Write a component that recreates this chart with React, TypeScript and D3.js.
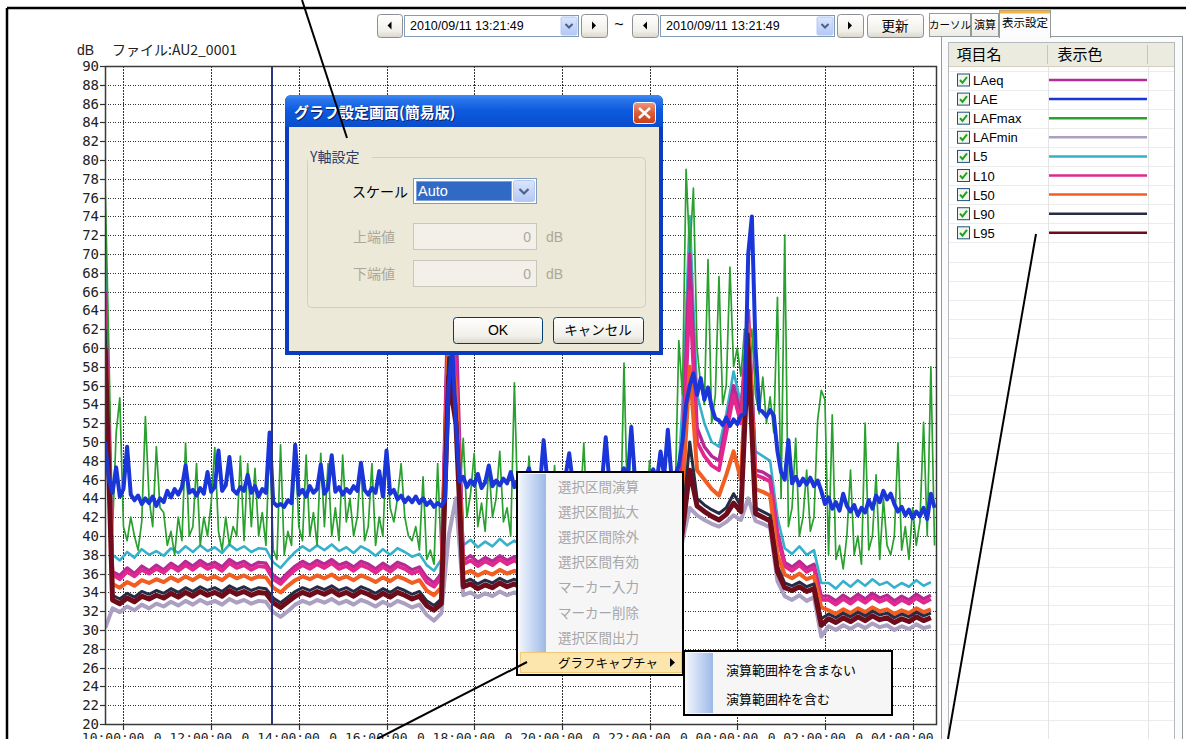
import React from "react";
import * as d3 from "d3";

// ---------------- data ----------------
const seriesNames = ["LAeq", "LAE", "LAFmax", "LAFmin", "L5", "L10", "L50", "L90", "L95"];
const seriesColors = ["#b52a95", "#1a36d8", "#2aa12f", "#ab9fc2", "#35b1cb", "#e2288f", "#f25e22", "#252c45", "#6f0c1b"];
const stepMinutes = [10, 5, 5, 10, 10, 10, 10, 10, 10];

const startTime = new Date(2010, 8, 10, 9, 35, 0);
const endTime = new Date(2010, 8, 11, 4, 32, 0);
const cursorTime = new Date(2010, 8, 10, 13, 23, 0);

const xTickTimes = [
  new Date(2010, 8, 10, 10), new Date(2010, 8, 10, 12), new Date(2010, 8, 10, 14),
  new Date(2010, 8, 10, 16), new Date(2010, 8, 10, 18), new Date(2010, 8, 10, 20),
  new Date(2010, 8, 10, 22), new Date(2010, 8, 11, 0), new Date(2010, 8, 11, 2),
  new Date(2010, 8, 11, 4),
];
const xTickLabels = ["10:00:00", "0 12:00:00", "0 14:00:00", "0 16:00:00", "0 18:00:00",
  "0 20:00:00", "0 22:00:00", "0 00:00:00", "0 02:00:00", "0 04:00:00"];
const yTickValues = [20, 22, 24, 26, 28, 30, 32, 34, 36, 38, 40, 42, 44, 46, 48, 50, 52, 54,
  56, 58, 60, 62, 64, 66, 68, 70, 72, 74, 76, 78, 80, 82, 84, 86, 88, 90];

// 5-minute series
const LAFMAX = [
  77, 60, 40.5, 51, 54.7, 41, 39.5, 42, 40, 38.5, 41.5, 52.7,
  44, 41, 49.5, 43, 42.5, 39, 40.5, 38, 42, 39.5, 49.9, 40,
  41, 47.7, 39, 42, 40, 43.5, 49.4, 40.5, 38.5, 42, 39, 41,
  40, 48.5, 39.5, 47.7, 41, 47.2, 40, 42.5, 39, 50.5, 38.5, 37.5,
  49.7, 38, 40.5, 39, 49.7, 41, 39.5, 48.6, 40, 42.5, 39, 48.8,
  41, 47.7, 40, 43, 39.5, 48.6, 41.5, 44, 40, 42, 47.8, 39.5,
  41, 47.7, 39, 42, 40, 49.1, 43, 41.5, 44, 47.7, 42, 40,
  39.5, 41, 38.5, 46.3, 37.5, 38.5, 37, 47.7, 37.5, 40, 62, 66,
  58, 44, 50.4, 42, 44.5, 48.8, 41, 43.5, 40.5, 47.5, 42, 44,
  49, 41.5, 43, 40, 56.3, 42, 44, 41, 48.5, 42.5, 40, 43,
  41, 44, 42, 47.5, 40.5, 43, 41, 44.5, 42, 40, 43, 49.9,
  41, 44, 42, 46, 40.5, 43, 41, 44, 42, 40, 58.4, 42,
  51.8, 43, 41, 44.5, 42, 48, 41, 43.5, 40.5, 44, 42, 45,
  44, 60.8, 55, 79, 70, 77, 60, 56, 54, 69.4, 52, 55,
  67.6, 54, 56, 68.6, 58, 60, 57, 62, 60, 62, 55, 53,
  56.9, 52, 54.8, 51, 65.4, 44, 72, 41, 43, 50.4, 40, 42,
  47, 40.5, 42, 52.3, 55.5, 54.5, 38, 52.9, 37.5, 39, 36.5, 40,
  47, 38, 40, 37, 52, 38.5, 40, 46.5, 37.5, 44, 39, 38,
  40, 49.9, 38.5, 41, 37.5, 43, 39, 41.5, 52.1, 40, 58, 39,
];
const LAE = [
  50, 46, 44.6, 47.3, 44.2, 45, 49.5, 44.4, 43.8, 44.3, 43.4, 44,
  43.5, 44.2, 43.2, 44, 43.6, 44.8, 44.1, 45, 44.4, 45.2, 47.5, 44.6,
  44.9, 44.3, 45.1, 44.5, 46.8, 44.7, 45.2, 49.1, 44.8, 45.4, 48.4, 44.9,
  44.5, 45.2, 44.8, 46.5, 44.6, 45.3, 44.2, 45, 44.6, 51, 43.6, 43.2,
  43.4, 43.1, 43.8, 43.5, 49.7, 44.4, 44.9, 44.2, 45.3, 44.6, 45, 47.6,
  44.5, 45.1, 48.6, 44.7, 45.2, 44.4, 45, 44.6, 45.3, 44.8, 47.8, 44.9,
  44.4, 45.1, 44.6, 46.9, 44.2, 49.1, 44.5, 44.9, 43.9, 44.3, 43.6, 44.1,
  43.6, 44.2, 43.5, 44, 43.3, 43.7, 43.1, 43.5, 43.2, 43.8, 56, 60,
  52, 45.8, 46.3, 45.2, 45.9, 45.4, 46.6, 45.1, 45.7, 47.5, 45.3, 45.9,
  45.4, 46.1, 45.6, 46.8, 45.2, 45.9, 45.5, 46.2, 47.2, 45.6, 46, 45.3,
  50.2, 45.8, 46.3, 45.5, 46.1, 45.7, 46.4, 48.8, 45.6, 46.2, 45.4, 46,
  45.8, 46.3, 45.6, 46.1, 45.9, 50.5, 45.7, 46.4, 45.5, 46.2, 47.2, 45.9,
  51.6, 46.1, 45.8, 46.5, 45.7, 46.3, 47.1, 45.9, 49, 46.4, 51.3, 46.2,
  46.5, 47.5, 50, 54, 56, 57.3, 55, 56.8, 54.5, 55.8, 53.7, 52.5,
  52.3, 51.8, 52.6, 51.7, 52.4, 51.9, 52.8, 53, 70, 74, 60, 53.5,
  53.2, 52.7, 53.4, 52.8, 49, 46.8, 46, 50.2, 45.6, 46.3, 45.4, 46.1,
  45.5, 46.2, 45.3, 45.9, 44.8, 43.4, 44.1, 42.9, 43.6, 42.7, 44.5, 43.2,
  42.6, 43.3, 42.2, 43, 42.5, 43.8, 42.9, 44.3, 43.6, 44.8, 43.9, 44.5,
  43.4, 42.6, 43.1, 42.2, 42.8, 41.9, 42.6, 42.1, 43, 41.8, 44.5, 43,
];

// 10-minute series
const L95 = [
  60,
  33.2, 32.8, 33.4, 33.0, 33.6, 33.3, 33.7, 33.4, 33.9, 33.5, 34.0, 33.6, 34.1, 33.7, 34.0, 33.6, 34.2, 33.8, 34.1, 33.7, 34.0, 33.9,
  32.9, 32.4, 33.0,
  33.6, 34.0, 33.7, 34.1, 33.8, 34.2, 33.7, 34.0, 33.6, 34.1, 33.8, 33.4, 33.9, 33.5, 34.0, 33.7, 33.3, 33.6,
  32.6, 32.1, 32.8,
  57, 52,
  34.6, 34.9, 34.4, 34.8, 34.5, 35.0, 34.6, 34.9, 34.5, 34.8, 34.4, 34.9, 34.6, 35.0, 34.7, 34.9, 34.5, 34.8, 34.6, 35.1,
  34.7, 34.9, 34.5, 34.8, 34.6, 35.0, 34.7, 34.9, 34.6, 35.2,
  40.5, 47, 43.2, 42.6, 42.1, 41.7, 42.3, 43.5, 42.6, 60, 42.4, 42.0, 41.6, 36.2,
  34.5, 34.2, 34.6, 34.1, 34.4,
  30.5,
  31.2, 30.8, 31.3, 30.9, 31.4, 31.0, 31.5, 31.1, 31.3, 30.8, 31.2, 30.9, 31.4, 31.0, 31.3,
];
const L90 = [
  62,
  33.7, 33.3, 33.9, 33.5, 34.1, 33.8, 34.2, 33.9, 34.4, 34.0, 34.5, 34.1, 34.6, 34.2, 34.5, 34.1, 34.7, 34.3, 34.6, 34.2, 34.5, 34.4,
  33.4, 32.9, 33.5,
  34.1, 34.5, 34.2, 34.6, 34.3, 34.7, 34.2, 34.5, 34.1, 34.6, 34.3, 33.9, 34.4, 34.0, 34.5, 34.2, 33.8, 34.1,
  33.1, 32.6, 33.3,
  59, 54,
  35.1, 35.4, 34.9, 35.3, 35.0, 35.5, 35.1, 35.4, 35.0, 35.3, 34.9, 35.4, 35.1, 35.5, 35.2, 35.4, 35.0, 35.3, 35.1, 35.6,
  35.2, 35.4, 35.0, 35.3, 35.1, 35.5, 35.2, 35.4, 35.1, 35.7,
  41.5, 50, 44, 43.3, 42.8, 42.4, 43, 44.5, 43.2, 61.5, 43, 42.6, 42.2, 36.8,
  35.0, 34.7, 35.1, 34.6, 34.9,
  31.2,
  31.7, 31.3, 31.8, 31.4, 31.9, 31.5, 32.0, 31.6, 31.8, 31.3, 31.7, 31.4, 31.9, 31.5, 31.8,
];
const LAFMIN = [
  30.2,
  32.3, 31.9, 32.5, 32.1, 32.7, 32.3, 32.8, 32.5, 33.0, 32.6, 33.1, 32.7, 33.2, 32.8, 33.1, 32.7, 33.3, 32.9, 33.2, 32.8, 33.1, 33.0,
  31.9, 31.4, 32.0,
  32.7, 33.1, 32.8, 33.2, 32.9, 33.3, 32.8, 33.1, 32.7, 33.2, 32.9, 32.5, 33.0, 32.6, 33.1, 32.8, 32.4, 32.7,
  31.6, 31.0, 31.8,
  40, 44,
  33.7, 34.0, 33.5, 33.9, 33.6, 34.1, 33.7, 34.0, 33.6, 33.9, 33.5, 34.0, 33.7, 34.1, 33.8, 34.0, 33.6, 33.9, 33.7, 34.2,
  33.8, 34.0, 33.6, 33.9, 33.7, 34.1, 33.8, 34.0, 33.7, 34.3,
  39.5, 43, 42.2, 41.7, 41.3, 41.0, 41.5, 42.2, 41.7, 44, 41.6, 41.3, 40.9, 35.2,
  33.6, 33.2, 33.7, 33.1, 33.5,
  29.3,
  30.4, 30.0, 30.5, 30.1, 30.6, 30.2, 30.7, 30.3, 30.5, 30.0, 30.4, 30.1, 30.6, 30.2, 30.4,
];
const L50 = [
  61,
  34.9, 34.5, 35.1, 34.7, 35.3, 35.0, 35.4, 35.1, 35.6, 35.2, 35.7, 35.3, 35.8, 35.4, 35.7, 35.3, 35.9, 35.5, 35.8, 35.4, 35.7, 35.6,
  34.5, 34.0, 34.7,
  35.3, 35.7, 35.4, 35.8, 35.5, 35.9, 35.4, 35.7, 35.3, 35.8, 35.5, 35.1, 35.6, 35.2, 35.7, 35.4, 35.0, 35.3,
  34.2, 33.7, 34.5,
  61, 56,
  36.0, 36.3, 35.8, 36.2, 35.9, 36.4, 36.0, 36.3, 35.9, 36.2, 35.8, 36.3, 36.0, 36.4, 36.1, 36.3, 35.9, 36.2, 36.0, 36.5,
  36.1, 36.3, 35.9, 36.2, 36.0, 36.4, 36.1, 36.3, 36.0, 36.8,
  44, 58, 47, 46, 45, 44.3, 46.5, 49, 46, 62.5, 45, 44.7, 44.3, 38,
  35.9, 35.5, 36.0, 35.4, 35.7,
  32.4,
  32.1, 31.7, 32.2, 31.8, 32.3, 31.9, 32.4, 32.0, 32.2, 31.7, 32.1, 31.8, 32.3, 31.9, 32.2,
];
const L10 = [
  64,
  35.9, 35.4, 36.2, 35.7, 36.4, 36.0, 36.5, 36.1, 36.8, 36.3, 36.9, 36.4, 37.0, 36.5, 36.8, 36.3, 37.1, 36.6, 36.9, 36.4, 36.8, 36.7,
  35.4, 34.9, 35.7,
  36.4, 36.9, 36.5, 37.0, 36.6, 37.1, 36.5, 36.8, 36.3, 36.9, 36.6, 36.1, 36.7, 36.2, 36.8, 36.5, 36.0, 36.3,
  35.1, 34.6, 35.6,
  64, 58,
  37.0, 37.4, 36.8, 37.3, 36.9, 37.5, 37.0, 37.4, 36.9, 37.3, 36.8, 37.4, 37.0, 37.5, 37.1, 37.4, 36.9, 37.3, 37.0, 37.6,
  37.1, 37.4, 36.9, 37.3, 37.0, 37.5, 37.1, 37.4, 37.0, 37.9,
  47, 66, 50, 48.5, 47.5, 47, 51, 55, 52, 64, 46.5, 46.2, 45.8, 40,
  36.8, 36.3, 36.9, 36.2, 36.6,
  33.2,
  33.2, 32.7, 33.3, 32.8, 33.4, 32.9, 33.5, 33.0, 33.3, 32.7, 33.2, 32.8, 33.4, 32.9, 33.3,
];
const LAEQ = [
  66,
  36.2, 35.8, 36.6, 36.0, 36.8, 36.3, 36.9, 36.4, 37.1, 36.6, 37.3, 36.8, 37.4, 36.9, 37.2, 36.7, 37.5, 37.0, 37.3, 36.8, 37.2, 37.1,
  35.8, 35.3, 36.1,
  36.8, 37.3, 36.9, 37.4, 37.0, 37.5, 36.9, 37.2, 36.7, 37.3, 37.0, 36.5, 37.1, 36.6, 37.2, 36.9, 36.4, 36.7,
  35.6, 35.0, 36.0,
  68, 63,
  37.4, 37.9, 37.2, 37.7, 37.3, 37.9, 37.4, 37.8, 37.3, 37.7, 37.2, 37.8, 37.4, 37.9, 37.5, 37.8, 37.3, 37.7, 37.4, 38.0,
  37.5, 37.8, 37.3, 37.7, 37.4, 37.9, 37.5, 37.8, 37.4, 38.3,
  49, 70, 51.5, 49.5, 48.5, 48, 52, 56, 53, 63, 47, 46.8, 46.3, 40.5,
  37.2, 36.7, 37.3, 36.6, 37.0,
  33.6,
  33.6, 33.1, 33.7, 33.2, 33.8, 33.3, 33.9, 33.4, 33.7, 33.1, 33.6, 33.2, 33.8, 33.3, 33.7,
];
const L5 = [
  70,
  38.0, 37.4, 38.3, 37.7, 38.6, 38.0, 38.4, 37.9, 38.7, 38.2, 38.9, 38.3, 39.0, 38.4, 38.8, 38.2, 39.1, 38.5, 38.9, 38.3, 38.7, 38.6,
  37.2, 36.6, 37.5,
  38.3, 38.9, 38.4, 39.0, 38.5, 39.1, 38.4, 38.8, 38.2, 38.9, 38.5, 37.9, 38.6, 38.0, 38.7, 38.3, 37.8, 38.1,
  36.9, 36.3, 37.5,
  66, 60,
  39.0, 39.6, 38.8, 39.4, 38.9, 39.7, 39.0, 39.5, 38.9, 39.4, 38.8, 39.5, 39.0, 39.7, 39.1, 39.5, 38.9, 39.4, 39.0, 39.8,
  39.1, 39.5, 38.9, 39.4, 39.0, 39.6, 39.1, 39.5, 39.0, 40.2,
  54, 74, 55, 52, 50, 49.5, 53, 57.5, 54, 64, 49, 48.5, 48, 42,
  38.7, 38.1, 38.9, 38.0, 38.5,
  35,
  35.0, 34.4, 35.2, 34.6, 35.3, 34.7, 35.4, 34.8, 35.1, 34.5, 35.0, 34.6, 35.3, 34.7, 35.1,
];

const seriesValues = [LAEQ, LAE, LAFMAX, LAFMIN, L5, L10, L50, L90, L95];
const drawOrder = [3, 4, 2, 0, 5, 6, 7, 8, 1];
const strokeWidths = [3.4, 4, 1.7, 4, 2.6, 3.8, 4, 3, 5];

const menuItems = ["選択区間演算", "選択区間拡大", "選択区間除外", "選択区間有効", "マーカー入力", "マーカー削除", "選択区間出力"];
const subMenuItems = ["演算範囲枠を含まない", "演算範囲枠を含む"];
const dateText = "2010/09/11 13:21:49";

const JP = "'Noto Sans CJK JP','Noto Sans',sans-serif";
const UI = "'Liberation Sans',Arial,sans-serif";
const MONO = "'DejaVu Sans Mono',monospace";

function SmallBtn({ x, y, w, h, dir }: any) {
  const cx = x + w / 2, cy = y + h / 2;
  const tri = dir < 0
    ? `M${cx + 2},${cy - 4} L${cx - 2},${cy} L${cx + 2},${cy + 4} Z`
    : `M${cx - 2},${cy - 4} L${cx + 2},${cy} L${cx - 2},${cy + 4} Z`;
  return (
    <g>
      <rect x={x + 0.5} y={y + 0.5} width={w} height={h} rx={3} fill="url(#btnGrad)" stroke="#8b8f96" />
      <path d={tri} fill="#000" />
    </g>
  );
}

function Combo({ x, y, w, h }: any) {
  return (
    <g>
      <rect x={x + 0.5} y={y + 0.5} width={w} height={h} fill="#fff" stroke="#7f9db9" />
      <text x={x + 6} y={y + 15} fontFamily={UI} fontSize={12.5} fill="#000">{dateText}</text>
      <rect x={x + w - 17} y={y + 2} width={16} height={h - 3} rx={1.5} fill="url(#ddGrad)" stroke="#b8c9f2" />
      <path d={`M${x + w - 12.5},${y + h / 2 - 1.5} L${x + w - 9},${y + h / 2 + 2} L${x + w - 5.5},${y + h / 2 - 1.5}`} fill="none" stroke="#4d6185" strokeWidth={2} />
    </g>
  );
}

export default function App() {
  const x = d3.scaleTime().domain([startTime, endTime]).range([105.2, 936]);
  const y = d3.scaleLinear().domain([20, 90]).range([724, 66]);
  const timeAt = (i: number, step: number) => new Date(startTime.getTime() + i * step * 60000);

  const plotL = 105, plotR = 936, plotT = 66, plotB = 724;

  const dataPaths = drawOrder.map((si) => {
    const gen = d3.line<number>()
      .x((_, i) => x(timeAt(i, stepMinutes[si])))
      .y((d) => y(d));
    return (
      <path key={seriesNames[si]} d={gen(seriesValues[si]) || ""} fill="none"
        stroke={seriesColors[si]} strokeWidth={strokeWidths[si]} strokeLinejoin="round" />
    );
  });

  const cursorX = Math.round(x(cursorTime));
  const rowPitch = 19.1;
  const emptyRows = d3.range(0, 36);

  return (
    <svg width={1186} height={739} viewBox="0 0 1186 739"
      style={{ position: "absolute", left: 0, top: 0, display: "block", background: "#fff" }}>
      <defs>
        <linearGradient id="btnGrad" x1="0" y1="0" x2="0" y2="1">
          <stop offset="0" stopColor="#ffffff" />
          <stop offset="0.7" stopColor="#f1f0ea" />
          <stop offset="1" stopColor="#d9d7cc" />
        </linearGradient>
        <linearGradient id="ddGrad" x1="0" y1="0" x2="0" y2="1">
          <stop offset="0" stopColor="#dbe6fd" />
          <stop offset="1" stopColor="#b3c8f6" />
        </linearGradient>
        <linearGradient id="titleGrad" x1="0" y1="0" x2="0" y2="1">
          <stop offset="0" stopColor="#3f8cf3" />
          <stop offset="0.15" stopColor="#2a74ea" />
          <stop offset="0.5" stopColor="#0b5ade" />
          <stop offset="1" stopColor="#0a4ccc" />
        </linearGradient>
        <linearGradient id="closeGrad" x1="0" y1="0" x2="0" y2="1">
          <stop offset="0" stopColor="#ec9a80" />
          <stop offset="0.5" stopColor="#de5a34" />
          <stop offset="1" stopColor="#c4401c" />
        </linearGradient>
        <linearGradient id="stripGrad" x1="0" y1="0" x2="1" y2="0">
          <stop offset="0" stopColor="#eef3fc" />
          <stop offset="1" stopColor="#9db9e8" />
        </linearGradient>
        <linearGradient id="tabGrad" x1="0" y1="0" x2="0" y2="1">
          <stop offset="0" stopColor="#ffffff" />
          <stop offset="1" stopColor="#ecebe5" />
        </linearGradient>
        <clipPath id="plotClip">
          <rect x={plotL} y={plotT} width={plotR - plotL} height={plotB - plotT} />
        </clipPath>
      </defs>

      <rect x={0} y={0} width={1186} height={739} fill="#fff" />

      {/* outer frame */}
      <line x1={7} y1={8} x2={1186} y2={8} stroke="#000" strokeWidth={2.5} />
      <line x1={7} y1={8} x2={7} y2={739} stroke="#000" strokeWidth={2.5} />

      {/* toolbar */}
      <SmallBtn x={377} y={14} w={25} h={23} dir={-1} />
      <Combo x={404} y={15} w={174} h={21} />
      <SmallBtn x={581} y={14} w={26} h={23} dir={1} />
      <text x={619} y={30} textAnchor="middle" fontFamily={UI} fontSize={16} fill="#000">~</text>
      <SmallBtn x={632} y={14} w={26} h={23} dir={-1} />
      <Combo x={660} y={15} w={174} h={21} />
      <SmallBtn x={837} y={14} w={26} h={23} dir={1} />
      <rect x={867.5} y={14.5} width={56} height={23} rx={3} fill="url(#btnGrad)" stroke="#8b8f96" />
      <text x={895} y={31} textAnchor="middle" fontFamily={JP} fontSize={13.5} fill="#000">更新</text>

      {/* chart title */}
      <text x={77} y={55} fontFamily={UI} fontSize={14} fill="#222">dB</text>
      <text x={112} y={55} fontFamily={JP} fontSize={14} fill="#222">ファイル:AU2_0001</text>

      {/* grid */}
      <g shapeRendering="crispEdges">
        {yTickValues.filter((v) => v > 20 && v < 90).map((v) => (
          <line key={"gy" + v} x1={plotL} x2={plotR} y1={Math.round(y(v)) + 0.5} y2={Math.round(y(v)) + 0.5}
            stroke="#333" strokeWidth={1} strokeDasharray="1,1.5" />
        ))}
        {xTickTimes.map((t, i) => (
          <line key={"gx" + i} x1={Math.round(x(t)) + 0.5} x2={Math.round(x(t)) + 0.5} y1={plotT} y2={plotB}
            stroke="#333" strokeWidth={1} strokeDasharray="1.5,1.5" />
        ))}
      </g>

      {/* data */}
      <g clipPath="url(#plotClip)">{dataPaths}</g>

      {/* cursor */}
      <line x1={cursorX} x2={cursorX} y1={plotT} y2={plotB} stroke="#2b3480" strokeWidth={2} />

      {/* axes */}
      <rect x={plotL + 0.5} y={plotT + 0.5} width={plotR - plotL} height={plotB - plotT} fill="none" stroke="#3a3a3a" strokeWidth={1.5} />
      {yTickValues.map((v) => (
        <g key={"yt" + v}>
          <line x1={100} x2={plotL} y1={Math.round(y(v)) + 0.5} y2={Math.round(y(v)) + 0.5} stroke="#333" strokeWidth={1.2} />
          <text x={99} y={y(v) + 5} textAnchor="end" fontFamily={MONO} fontSize={14} fill="#222">{v}</text>
        </g>
      ))}
      {xTickTimes.map((t, i) => (
        <g key={"xt" + i}>
          <line x1={Math.round(x(t)) + 0.5} x2={Math.round(x(t)) + 0.5} y1={plotB} y2={plotB + 6} stroke="#333" strokeWidth={1.2} />
          <text x={x(t) + 21} y={742} textAnchor="end" fontFamily={MONO} fontSize={13} fill="#222">{xTickLabels[i]}</text>
        </g>
      ))}

      {/* right panel */}
      <g>
        <rect x={929.5} y={13.5} width={41} height={23} fill="url(#tabGrad)" stroke="#919b9c" />
        <text x={950} y={29} textAnchor="middle" fontFamily={JP} fontSize={10.5} fill="#000">カーソル</text>
        <rect x={971.5} y={13.5} width={27} height={23} fill="url(#tabGrad)" stroke="#919b9c" />
        <text x={985} y={29} textAnchor="middle" fontFamily={JP} fontSize={11} fill="#000">演算</text>
        <rect x={941.5} y={36.5} width={241} height={720} fill="#fbfbfc" stroke="#919b9c" />
        <rect x={999.5} y={10.5} width={51} height={27} fill="#fcfcfe" stroke="#919b9c" />
        <rect x={1000} y={10.5} width={50} height={3} fill="#f5b43c" />
        <rect x={1000} y={36} width={50} height={2} fill="#fcfcfe" />
        <text x={1025} y={27} textAnchor="middle" fontFamily={JP} fontSize={11.5} fill="#000">表示設定</text>

        <rect x={948.5} y={42.5} width={226} height={710} fill="#fff" stroke="#b4b9c0" />
        <rect x={949} y={43} width={225} height={23} fill="#ecebe0" />
        <line x1={949} x2={1174} y1={66.5} y2={66.5} stroke="#d2cdbf" />
        <line x1={1047.5} x2={1047.5} y1={45} y2={64} stroke="#c9c6b4" />
        <line x1={1147.5} x2={1147.5} y1={45} y2={64} stroke="#c9c6b4" />
        <text x={979} y={60} textAnchor="middle" fontFamily={JP} fontSize={15} fill="#000">項目名</text>
        <text x={1080} y={60} textAnchor="middle" fontFamily={JP} fontSize={15} fill="#000">表示色</text>
        {emptyRows.map((r) => (
          <line key={"rl" + r} x1={949} x2={1174} y1={Math.round(70.5 + rowPitch * r) + 0.5} y2={Math.round(70.5 + rowPitch * r) + 0.5} stroke="#ececec" />
        ))}
        <line x1={1048.5} x2={1048.5} y1={67} y2={739} stroke="#e4e4e4" />
        <line x1={1148.5} x2={1148.5} y1={67} y2={739} stroke="#e4e4e4" />
        {seriesNames.map((name, i) => {
          const cy = 80 + rowPitch * i;
          return (
            <g key={"lg" + name}>
              <rect x={957.5} y={cy - 6} width={12} height={12} fill="#f3f3ee" stroke="#1c5180" />
              <path d={`M960,${cy} L962.5,${cy + 2.8} L967,${cy - 3}`} fill="none" stroke="#21a121" strokeWidth={2} />
              <text x={973} y={cy + 5} fontFamily={UI} fontSize={13} fill="#000">{name}</text>
              <line x1={1049} x2={1147} y1={cy} y2={cy} stroke={seriesColors[i]} strokeWidth={2.5} />
            </g>
          );
        })}
      </g>

      {/* dialog */}
      <g>
        <path d="M285,355 L285,102 Q285,95 292,95 L656,95 Q663,95 663,102 L663,355 Z" fill="#0b3cc0" />
        <path d="M285,127 L285,102 Q285,95 292,95 L656,95 Q663,95 663,102 L663,127 Z" fill="url(#titleGrad)" />
        <rect x={289} y={127} width={370} height={224} fill="#ece9d8" />
        <text x={295} y={119} fontFamily={JP} fontSize={15} fontWeight="bold" fill="#0a1f6e">グラフ設定画面(簡易版)</text>
        <text x={294} y={118} fontFamily={JP} fontSize={15} fontWeight="bold" fill="#fff">グラフ設定画面(簡易版)</text>
        <rect x={633.5} y={102.5} width={22} height={21} rx={3} fill="url(#closeGrad)" stroke="#fff" />
        <path d="M639,108 L650,118 M650,108 L639,118" stroke="#fff" strokeWidth={2.4} />

        <rect x={307.5} y={157.5} width={338} height={150} rx={4} fill="none" stroke="#d0d0bf" />
        <rect x={308} y={149} width={64} height={16} fill="#ece9d8" />
        <text x={310} y={162} fontFamily={JP} fontSize={14} fill="#2c3a66">Y軸設定</text>

        <text x={352} y={197} fontFamily={JP} fontSize={14} fill="#000">スケール</text>
        <rect x={413.5} y={178.5} width={123} height={25} fill="#fff" stroke="#7f9db9" />
        <rect x={416} y={181} width={96} height={20} fill="#316ac5" />
        <rect x={416.5} y={181.5} width={95} height={19} fill="none" stroke="#cdd9ef" strokeDasharray="1,1" />
        <text x={418} y={196} fontFamily={UI} fontSize={14.5} fill="#fff">Auto</text>
        <rect x={513.5} y={180.5} width={21} height={21} rx={2} fill="url(#ddGrad)" stroke="#b6c9f5" />
        <path d="M519.5,189 L524,193.5 L528.5,189" fill="none" stroke="#4d6185" strokeWidth={2.2} />

        <text x={353} y={242} fontFamily={JP} fontSize={14} fill="#aca899">上端値</text>
        <rect x={413.5} y={223.5} width={123} height={26} fill="#f2f0e8" stroke="#c9c7ba" />
        <text x={531} y={242} textAnchor="end" fontFamily={UI} fontSize={14} fill="#aca899">0</text>
        <text x={546} y={242} fontFamily={UI} fontSize={14} fill="#aca899">dB</text>

        <text x={353} y={279} fontFamily={JP} fontSize={14} fill="#aca899">下端値</text>
        <rect x={413.5} y={260.5} width={123} height={26} fill="#f2f0e8" stroke="#c9c7ba" />
        <text x={531} y={279} textAnchor="end" fontFamily={UI} fontSize={14} fill="#aca899">0</text>
        <text x={546} y={279} fontFamily={UI} fontSize={14} fill="#aca899">dB</text>

        <rect x={453.5} y={317.5} width={89} height={26} rx={3} fill="url(#btnGrad)" stroke="#003c74" />
        <text x={498} y={335} textAnchor="middle" fontFamily={UI} fontSize={14} fill="#000">OK</text>
        <rect x={553.5} y={317.5} width={90} height={26} rx={3} fill="url(#btnGrad)" stroke="#003c74" />
        <text x={598} y={335} textAnchor="middle" fontFamily={JP} fontSize={13.5} fill="#000">キャンセル</text>
      </g>

      {/* context menu */}
      <g>
        <rect x={517} y={472} width={166} height={203} fill="#f6f6f6" stroke="#000" strokeWidth={2} />
        <rect x={520} y={474} width={26} height={199} fill="url(#stripGrad)" />
        {menuItems.map((m, i) => (
          <text key={"mi" + i} x={558} y={492 + 25.1 * i} fontFamily={JP} fontSize={13.5} fill="#a7a6aa">{m}</text>
        ))}
        <rect x={520.5} y={652.5} width={161} height={20} fill="#fde6ad" stroke="#f0c979" />
        <text x={558} y={668} fontFamily={JP} fontSize={12.5} fill="#000">グラフキャプチャ</text>
        <path d="M670,658 L675,662.5 L670,667 Z" fill="#000" />

        <rect x={684} y={651} width={208} height={64} fill="#f6f6f6" stroke="#000" strokeWidth={2} />
        <rect x={687} y={653} width={26} height={60} fill="url(#stripGrad)" />
        {subMenuItems.map((m, i) => (
          <text key={"si" + i} x={726} y={675 + 29 * i} fontFamily={JP} fontSize={13} fill="#000">{m}</text>
        ))}
      </g>

      {/* annotation lines */}
      <line x1={302} y1={0} x2={347} y2={138} stroke="#000" strokeWidth={2} />
      <line x1={527} y1={662} x2={377} y2={739} stroke="#000" strokeWidth={2} />
      <line x1={1036} y1={234} x2={948} y2={739} stroke="#000" strokeWidth={2} />
    </svg>
  );
}
